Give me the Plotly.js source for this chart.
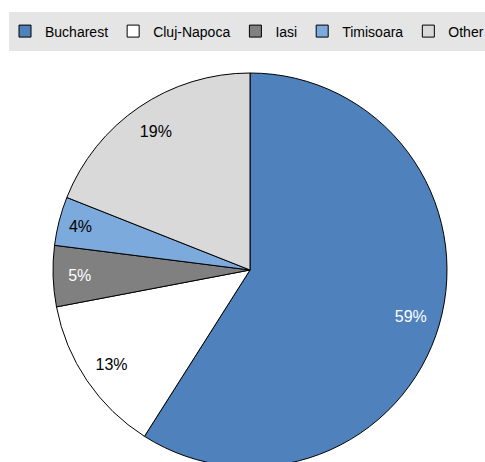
<!DOCTYPE html>
<html>
<head>
<meta charset="utf-8">
<script src="https://cdn.plot.ly/plotly-3.0.1.min.js"></script>
<style>
html,body{margin:0;padding:0;overflow:hidden;background:#fff;}
#chart{width:485px;height:470px;}
</style>
</head>
<body>
<div id="chart"></div>
<script>
const cities = ['Bucharest', 'Cluj-Napoca', 'Iasi', 'Timisoara', 'Other'];
const shares = [59, 13, 5, 4, 19];
const sliceColors = ['#4f81bd', '#ffffff', '#808080', '#7caadc', '#d9d9d9'];
const labelColors = ['#ffffff', '#000000', '#ffffff', '#000000', '#000000'];

const W = 485, H = 470;
const M = {l: 0, r: 0, t: 73, b: 3};
const plotH = H - M.t - M.b;

const pieDomain = {x: [15 / W, 1], y: [0, 1]};

const slices = {
  type: 'pie',
  labels: cities,
  values: shares,
  sort: false,
  direction: 'clockwise',
  rotation: 0,
  domain: pieDomain,
  marker: {colors: sliceColors, line: {color: '#000000', width: 1}},
  textinfo: 'none',
  hoverinfo: 'none',
  showlegend: true
};

// transparent ring on top, used only to place the percentage labels near the rim
const labelRing = {
  type: 'pie',
  labels: cities,
  values: shares,
  sort: false,
  direction: 'clockwise',
  rotation: 0,
  domain: pieDomain,
  hole: 0.7,
  marker: {colors: cities.map(() => 'rgba(0,0,0,0)'), line: {width: 0}},
  textinfo: 'percent',
  texttemplate: '%{percent:.0%}',
  textposition: 'inside',
  insidetextorientation: 'horizontal',
  insidetextfont: {family: 'Arial, Liberation Sans, sans-serif', size: 16, color: labelColors},
  hoverinfo: 'none',
  showlegend: false
};

// pixel -> paper helpers for the legend background band
const px = v => (v - M.l) / (W - M.l - M.r);
const py = v => (H - M.b - v) / plotH;

const layout = {
  width: W,
  height: H,
  margin: M,
  paper_bgcolor: '#ffffff',
  font: {family: 'Arial, Liberation Sans, sans-serif', size: 14, color: '#000000'},
  showlegend: true,
  shapes: [{
    type: 'rect', xref: 'paper', yref: 'paper',
    x0: px(9), x1: px(490), y0: py(51), y1: py(12),
    fillcolor: '#e5e5e5', line: {width: 0}, layer: 'below'
  }],
  legend: {
    orientation: 'h',
    xref: 'container', yref: 'container',
    x: 5 / W, xanchor: 'left',
    y: 1 - 31.5 / H, yanchor: 'middle',
    bgcolor: 'rgba(0,0,0,0)',
    borderwidth: 0,
    font: {size: 14},
    itemwidth: 30,
    traceorder: 'normal'
  }
};

Plotly.newPlot('chart', [slices, labelRing], layout, {staticPlot: true, displayModeBar: false});
</script>
</body>
</html>
